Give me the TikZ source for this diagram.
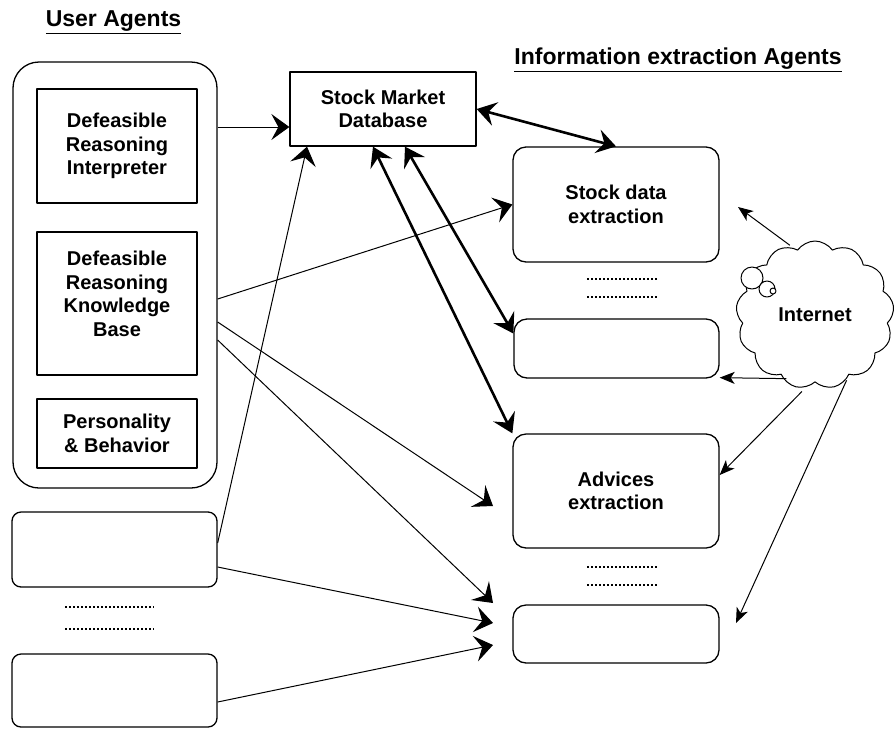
\documentclass[tikz,border=0pt]{standalone}
\usepackage{fontspec}
\setmainfont{Liberation Sans}
\usetikzlibrary{positioning, arrows.meta, shapes.symbols}
\newcommand{\agentfont}{\fontsize{20}{23.5}\selectfont\bfseries}
\newcommand{\titlefont}{\fontsize{23}{26}\selectfont\bfseries}
\tikzset{agentbox/.style={draw, line width=1.3pt, font=\agentfont, align=center, inner sep=0pt}}
\tikzset{ibox/.style 2 args={agentbox, minimum width=#1, minimum height=#2}}
\tikzset{rbox/.style 2 args={agentbox, rounded corners=13pt, minimum width=#1, minimum height=#2}}
\tikzset{
	stock WD/.style={
		x=1pt, y=-1pt,
		line join=round,
		ar/.style={line width=1pt, -{Stealth[length=18pt, width=26pt, inset=7pt]}},
		dar/.style={line width=2.6pt,
			{Stealth[length=19pt, width=24pt, inset=7pt]}-{Stealth[length=19pt, width=24pt, inset=7pt]}},
		netar/.style={line width=1pt, -{Stealth[length=15pt, width=12pt, inset=4pt]}},
		dotrow/.style={line width=2pt, dash pattern=on 2pt off 2pt},
		title/.style={font=\titlefont, inner sep=0pt}
	}
}

\begin{document}
\begin{tikzpicture}[stock WD]
  \useasboundingbox (0,0) rectangle (896,729);

  % ---- the two column titles
  \node[title] at (113.5,22) (uatitle) {\underline{User Agents}};
  \node[title] at (678,60) (ietitle) {\underline{Information extraction Agents}};

  % ---- the user agent and its three parts
  \node[ibox={204pt}{426pt}, rounded corners=26pt] at (115,275) (ua) {};
  \node[ibox={160pt}{114pt}] at (117,146)   (dri)  {Defeasible\\Reasoning\\Interpreter};
  % text sits a little high in this one
  \node[ibox={160pt}{143pt}] at (117,303.5) (drkb) {Defeasible\\Reasoning\\Knowledge\\Base\\[-3.5pt]\mbox{}};
  \node[ibox={160pt}{69pt}]  at (117,433.5) (pb)   {Personality\\\& Behavior};

  % ---- the other user agents, left empty
  \node[ibox={205pt}{75pt}, rounded corners=9pt] at (114.5,549.5) (uaA) {};
  \node[ibox={205pt}{73pt}, rounded corners=9pt] at (114.5,690.5) (uaB) {};
  \foreach \y in {607,629} \draw[dotrow] (65,\y) -- (154,\y);

  % ---- the shared database
  \node[ibox={186pt}{74pt}] at (383,109) (smd) {Stock Market\\Database};

  % ---- the information extraction agents
  \node[rbox={206pt}{115pt}] at (616,204.5) (sde) {Stock data\\extraction};
  \node[rbox={205pt}{59pt}]  at (616.5,348.5) (ie2) {};
  \node[rbox={206pt}{114pt}] at (616,491)   (adv) {Advices\\extraction};
  \node[rbox={206pt}{58pt}]  at (616,634)   (ie4) {};
  \foreach \y in {279,297,567,585} \draw[dotrow] (587,\y) -- (658,\y);

  % ---- the internet, a cloud with its little bubbles
  \node[cloud, draw, line width=1pt, cloud puffs=13, cloud puff arc=110, aspect=1.05,
        minimum width=158pt, minimum height=148pt, inner sep=0pt, font=\agentfont]
        at (815,315) (net) {Internet};
  \draw[line width=1pt, fill=white] (752,278) circle[radius=11pt];
  \draw[line width=1pt, fill=white] (767,289) circle[radius=8pt];
  \draw[line width=1pt, fill=white] (773,291) circle[radius=3pt];

  % ---- ports on the right side of the user agents
  \coordinate (ua_o1)  at (ua.east |- 0,127);
  \coordinate (ua_o2)  at (ua.east |- 0,299);
  \coordinate (ua_o3)  at (ua.east |- 0,322);
  \coordinate (ua_o4)  at (ua.east |- 0,340);
  \coordinate (uaA_o1) at (uaA.east |- 0,543);
  \coordinate (uaA_o2) at (uaA.east |- 0,567);
  \coordinate (uaB_o1) at (uaB.east |- 0,702);

  % free arrow tips, the arrows stop short of the boxes
  \coordinate (adv_t)  at (493,506);
  \coordinate (ie4_t1) at (493,603);
  \coordinate (ie4_t2) at (493,623);
  \coordinate (ie4_t3) at (493,645);
  \coordinate (sde_t)  at (738,207);
  \coordinate (ie4_t4) at (736,623);

  % ================= user agents -> database and extraction agents =============
  \draw[ar] (ua_o1) -- (smd.west |- ua_o1);
  \draw[ar] (ua_o2) -- (sde.west);
  \draw[ar] (ua_o3) -- (adv_t);
  \draw[ar] (ua_o4) -- (ie4_t1);
  \draw[ar] (uaA_o1) -- ([xshift=-76pt]smd.south);
  \draw[ar] (uaA_o2) -- (ie4_t2);
  \draw[ar] (uaB_o1) -- (ie4_t3);

  % ================= database <-> extraction agents ============================
  \draw[dar] (smd.east) -- (sde.north);
  \draw[dar] ([xshift=22pt]smd.south) -- ([yshift=15pt]ie2.west);
  \draw[dar] ([xshift=-10pt]smd.south) -- (adv.north west);

  % ================= internet -> extraction agents =============================
  \draw[netar, shorten <=4pt] (net.108) -- (sde_t);
  \draw[netar] (net.247 |- ie2.south east) -- ([yshift=1pt]ie2.south east);
  \draw[netar, shorten <=6pt] (net.263) -- ([yshift=16pt]adv.east);
  \draw[netar, shorten <=5pt] (net.299) -- (ie4_t4);

\end{tikzpicture}
\end{document}
